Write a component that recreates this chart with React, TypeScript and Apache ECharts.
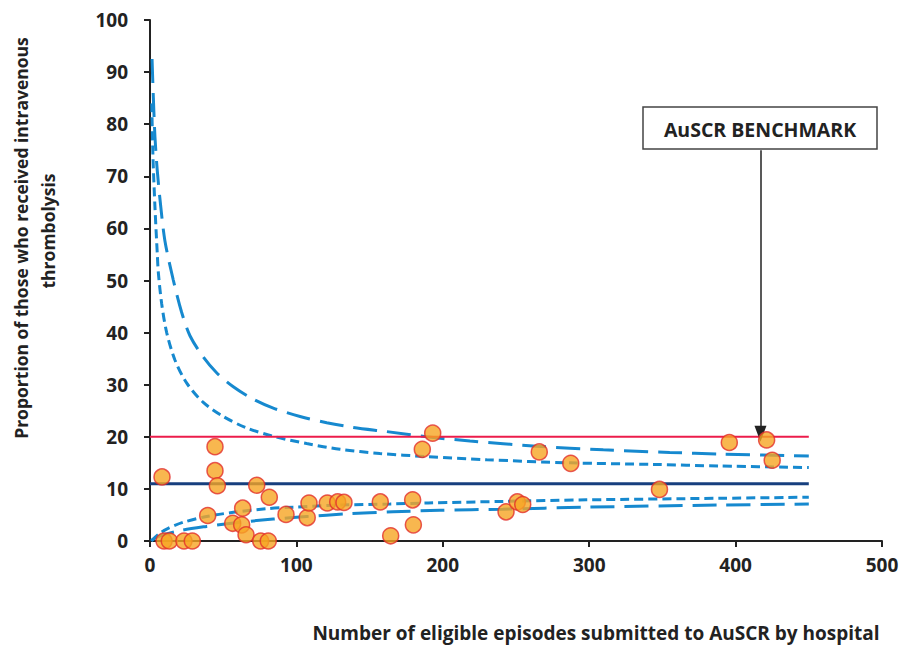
import React, { useEffect, useRef } from "react";
import * as echarts from "echarts";

// Hospital points: episodes submitted vs % thrombolysed
const hospitalEpisodes = [8.2, 9.6, 13.2, 23.2, 28.9, 39.4, 44.4, 44.4, 46, 56.5, 63.3, 62.6, 65.6, 72.9, 75.6, 80.8, 81.5, 92.9, 107.4, 108.6, 121.1, 128.2, 132.5, 157.3, 164.4, 179.4, 179.9, 186, 193.1, 243.2, 250.9, 254.6, 265.9, 287.4, 348, 395.7, 421.2, 425];
const thrombolysisPct = [12.3, 0, 0, 0, 0, 4.9, 18.1, 13.5, 10.6, 3.4, 6.3, 3.1, 1.2, 10.7, 0, 0, 8.4, 5.1, 4.5, 7.3, 7.3, 7.5, 7.4, 7.5, 1.0, 7.9, 3.1, 17.6, 20.7, 5.6, 7.5, 7.0, 17.1, 14.9, 9.9, 18.9, 19.4, 15.5];

// Funnel limits
const upperOuterX = [1.4, 2.3, 3.4, 5, 7.3, 10.2, 15.9, 21.6, 27.3, 36.4, 45.5, 56.9, 70.6, 84.2, 102.5, 120.7, 138.9, 161.7, 189, 218.6, 264, 309.6, 355, 389, 450];
const upperOuterY = [92.5, 85, 77.5, 71, 64.3, 57.6, 50.1, 43.9, 39.4, 35.3, 32.3, 29.6, 27.2, 25.5, 23.9, 22.7, 21.8, 21.0, 20.0, 19.2, 18.2, 17.5, 17.0, 16.7, 16.3];
const upperInnerX = [1.2, 2.0, 3.4, 5, 5.7, 8, 11.4, 17.1, 25.1, 36.4, 50, 66, 84.2, 107, 129.8, 157, 189, 230, 287, 343.8, 389, 450];
const upperInnerY = [84, 74, 64, 55, 51.5, 45.5, 40.0, 34.7, 30.3, 26.6, 23.9, 21.7, 20.1, 18.7, 17.6, 16.8, 16.2, 15.6, 15.0, 14.7, 14.4, 14.1];
const lowerInnerX = [0.8, 6.8, 11.4, 22.8, 38.7, 56.9, 79.7, 97.9, 129.8, 164, 190, 241, 298, 389, 450];
const lowerInnerY = [0, 1.5, 2.3, 3.6, 4.7, 5.5, 6.2, 6.5, 6.9, 7.1, 7.3, 7.6, 7.9, 8.2, 8.4];
const lowerOuterX = [1, 5, 20.5, 38.7, 61.5, 84.2, 107, 134, 166, 198, 241, 298, 389, 450];
const lowerOuterY = [0.1, 0.8, 2.0, 2.8, 3.6, 4.2, 4.7, 5.2, 5.6, 5.9, 6.1, 6.5, 6.9, 7.1];

const benchmarkValue = 20;
const meanValue = 11;
const lineEndX = 450;
const arrowX = 417;
const arrowTopY = 75;
const arrowTipY = 20.6;

const xTicks = { min: 0, max: 500, interval: 100 };
const yTicks = { min: 0, max: 100, interval: 10 };

const zip = (xs: number[], ys: number[]) => xs.map((x, i) => [x, ys[i]]);

const FONT = "'Open Sans', 'DejaVu Sans', sans-serif";
const BLUE = "#1689CF";

export default function App() {
  const ref = useRef<HTMLDivElement>(null);
  useEffect(() => {
    if (!ref.current) return;
    const chart = echarts.init(ref.current, undefined, { renderer: "svg" });
    const dashLine = (name: string, data: number[][], type: number[]) => ({
      name,
      type: "line",
      data,
      smooth: 0.3,
      showSymbol: false,
      symbol: "none",
      z: 2,
      lineStyle: { color: BLUE, width: 3, type, cap: "butt" },
    });
    chart.setOption({
      animation: false,
      backgroundColor: "#ffffff",
      grid: { left: 150, right: 20, top: 20, bottom: 107, containLabel: false },
      xAxis: {
        type: "value",
        ...xTicks,
        axisLine: { show: true, lineStyle: { color: "#222", width: 2 } },
        axisTick: { show: true, inside: false, length: 6, lineStyle: { color: "#222", width: 2 } },
        axisLabel: { color: "#222", fontSize: 19, fontWeight: "bold", fontFamily: FONT, margin: 14 },
        splitLine: { show: false },
      },
      yAxis: {
        type: "value",
        ...yTicks,
        axisLine: { show: true, lineStyle: { color: "#222", width: 2 } },
        axisTick: { show: true, inside: false, length: 6, lineStyle: { color: "#222", width: 2 } },
        axisLabel: { color: "#222", fontSize: 19, fontWeight: "bold", fontFamily: FONT, margin: 22 },
        splitLine: { show: false },
      },
      graphic: [
        {
          type: "text",
          x: 21,
          y: 238,
          rotation: Math.PI / 2,
          style: {
            text: "Proportion of those who received intravenous",
            fontSize: 17.5,
            fontWeight: "bold",
            fontFamily: FONT,
            fill: "#222",
            align: "center",
            verticalAlign: "middle",
          },
        },
        {
          type: "text",
          x: 48,
          y: 231,
          rotation: Math.PI / 2,
          style: {
            text: "thrombolysis",
            fontSize: 17.5,
            fontWeight: "bold",
            fontFamily: FONT,
            fill: "#222",
            align: "center",
            verticalAlign: "middle",
          },
        },
        {
          type: "text",
          x: 596,
          y: 633,
          style: {
            text: "Number of eligible episodes submitted to AuSCR by hospital",
            fontSize: 19,
            fontWeight: "bold",
            fontFamily: FONT,
            fill: "#222",
            align: "center",
            verticalAlign: "middle",
          },
        },
        {
          type: "rect",
          shape: { x: 643, y: 107, width: 234, height: 42 },
          style: { fill: "#fff", stroke: "#444", lineWidth: 1.5 },
          z: 10,
        },
        {
          type: "text",
          x: 760,
          y: 129,
          z: 11,
          style: {
            text: "AuSCR BENCHMARK",
            fontSize: 19.5,
            fontWeight: "bold",
            fontFamily: FONT,
            fill: "#222",
            align: "center",
            verticalAlign: "middle",
          },
        },
      ],
      series: [
        dashLine("upperOuter", zip(upperOuterX, upperOuterY), [24, 10]),
        dashLine("upperInner", zip(upperInnerX, upperInnerY), [9, 5]),
        dashLine("lowerInner", zip(lowerInnerX, lowerInnerY), [9, 5]),
        dashLine("lowerOuter", zip(lowerOuterX, lowerOuterY), [24, 10]),
        {
          name: "benchmark",
          type: "line",
          data: [[0, benchmarkValue], [lineEndX, benchmarkValue]],
          symbol: "none",
          z: 3,
          lineStyle: { color: "#EC1C4B", width: 2 },
        },
        {
          name: "mean",
          type: "line",
          data: [[0, meanValue], [lineEndX, meanValue]],
          symbol: "none",
          z: 3,
          lineStyle: { color: "#173F7E", width: 3 },
        },
        {
          name: "hospitals",
          type: "scatter",
          data: zip(hospitalEpisodes, thrombolysisPct),
          symbol: "circle",
          symbolSize: 16,
          z: 5,
          itemStyle: { color: "#F6A523", borderColor: "#E2302A", borderWidth: 1.5 },
          markLine: {
            silent: true,
            symbol: ["none", "triangle"],
            symbolSize: [12, 16],
            label: { show: false },
            lineStyle: { color: "#222", width: 1.5, type: "solid" },
            data: [[{ coord: [arrowX, arrowTopY] }, { coord: [arrowX, arrowTipY] }]],
          },
        },
      ],
    });
    return () => chart.dispose();
  }, []);
  return (
    <div
      ref={ref}
      style={{ position: "fixed", left: 0, top: 0, width: 902, height: 648 }}
    />
  );
}
